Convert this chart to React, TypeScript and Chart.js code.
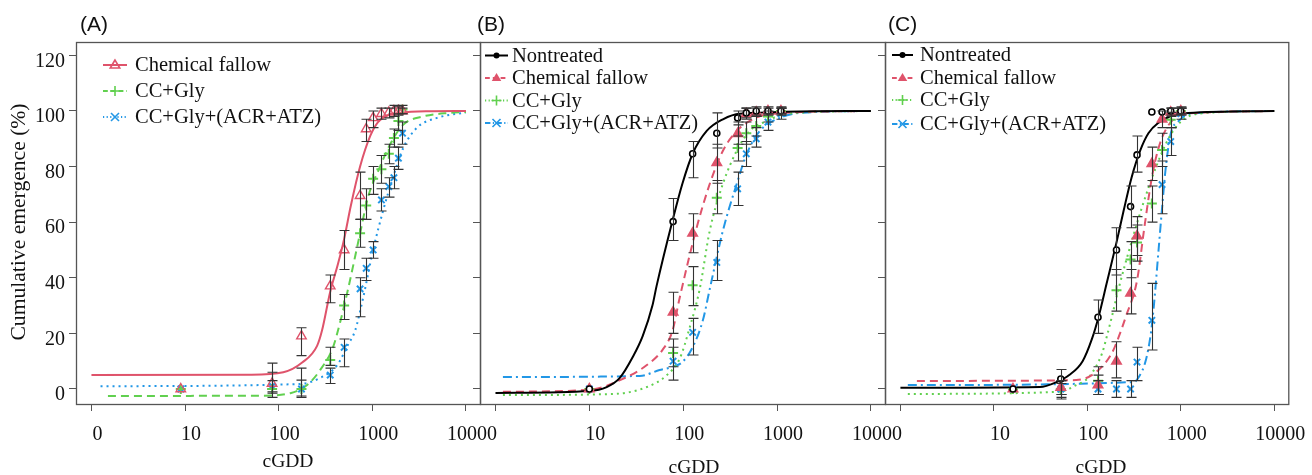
import React, { useEffect, useRef } from "react";
import { Chart, registerables } from "chart.js";
Chart.register(...registerables);

const RED = "#DF536B";
const GREEN = "#61D04F";
const BLUE = "#2297E6";
const BLACK = "#000000";

const xTickValues = [1, 10, 100, 1000, 10000];
const xTickLabelsFirst = ["0", "10", "100", "1000", "10000"];
const xTickLabelsNext = ["", "10", "100", "1000", "10000"];
const yTickValues = [0, 20, 40, 60, 80, 100, 120];
const panelTitles = ["(A)", "(B)", "(C)"];
const labelNon = "Nontreated";
const labelFallow = "Chemical fallow";
const labelGly = "CC+Gly";
const labelAcr = "CC+Gly+(ACR+ATZ)";

// ---------- Panel A ----------
const aSampleX = [9, 85, 175, 355, 500, 740, 860, 1020, 1250, 1500, 1700, 1900, 2100];
const aFallowY = [0, 2, 19, 37, 50, 69.5, 93.5, 97.5, 99, 99.5, 100, 100, 100];
const aFallowLo = [0, -3, 12, 31, 43, 61, 89, 94, 97, 97.5, 98, 98.5, 99];
const aFallowHi = [0, 9.3, 22, 41, 57, 78, 97, 100, 101, 101, 102, 101.5, 101];
const aGlyY = [0, 0, 0, 10.4, 30, 56, 66, 75.6, 79, 84.6, 90.3, 96.4, 100.5];
const aGlyLo = [0, -1.5, -2.5, 8.5, 25, 51, 61, 70, 74, 81, 87, 93, 99];
const aGlyHi = [0, 6, 3.2, 15, 34, 61, 72, 80, 84, 88, 93.5, 99, 102];
const aAcrY = [0, 1, 0, 5, 15, 36, 43.4, 50, 68, 72.8, 76, 83, 92];
const aAcrLo = [0, -1, -3, 2, 8, 26, 39, 47, 64, 69, 72, 79, 88];
const aAcrHi = [0, 3, 7.5, 7.5, 18, 40, 47, 53, 72, 76, 80, 87, 96];

const aFallowCurveX = [1, 50, 112, 178, 257, 290, 355, 430, 500, 590, 740, 950, 1150, 1500, 2000, 3800, 10000];
const aFallowCurveY = [5, 5.1, 6, 9.5, 15.5, 21, 35, 45, 54, 66, 80, 91, 96, 98.6, 99.4, 99.9, 100];
const aGlyCurveX = [1.5, 63, 133, 201, 277, 380, 453, 551, 740, 900, 1210, 1550, 2130, 3470, 6740, 10000];
const aGlyCurveY = [-2.5, -2.4, -1.5, 1.4, 6.8, 15, 24, 36, 56, 69, 80, 88, 95, 98, 99.3, 99.6];
const aAcrCurveX = [1.25, 170, 277, 420, 551, 655, 800, 1020, 1300, 1660, 2130, 3000, 4900, 10000];
const aAcrCurveY = [1, 1.8, 4, 8.5, 16, 21, 33, 50, 64, 76, 86.5, 94, 97.5, 99.5];

// ---------- Panel B ----------
const bSampleX = [10, 78, 126, 228, 380, 470, 600, 800, 1100];
const bNonY = [0, 60.2, 84.6, 92, 97.5, 99.3, 100, 100, 100];
const bNonLo = [0, 53.4, 76, 86.7, 95, 97.5, 98.5, 99, 99];
const bNonHi = [0, 68.5, 89, 99.3, 100, 101, 101.5, 101, 101];
const bFallowY = [0, 27.6, 56, 81.4, 91.8, 99, 99.5, 100, 100];
const bFallowLo = [0, 20, 49, 74, 88, 97, 98, 98.5, 99];
const bFallowHi = [0, 34.8, 63, 88, 96, 101, 101, 101.5, 101];
const bGlyY = [0, 12.9, 37.3, 68.8, 86.7, 92, 94.6, 98, 100];
const bGlyLo = [0, 8, 30, 63, 82, 88, 91, 96, 98.5];
const bGlyHi = [0, 18, 44, 75, 91, 96, 98, 100, 101.5];
const bAcrY = [0, 10, 20.4, 45.5, 72, 84.6, 90, 96, 99];
const bAcrLo = [0, 3.2, 12.2, 39, 66, 80, 87, 93, 97];
const bAcrHi = [0, 15, 25.4, 53.4, 78, 89, 94, 99, 101];

const bNonCurveX = [1, 10, 15.3, 21, 29, 37, 47, 52, 77, 98, 126, 178, 265, 400, 10000];
const bNonCurveY = [-1.4, -0.7, 0.7, 3.9, 11.5, 19, 30, 37, 60.6, 73.8, 84.6, 92.8, 97, 99, 100];
const bFallowCurveX = [1.2, 10, 25, 41, 60, 77, 92, 139, 192, 265, 372, 550, 900, 10000];
const bFallowCurveY = [-1, -0.3, 4.3, 8.6, 14, 21, 33, 58, 73.8, 85.7, 92.8, 97, 99, 100];
const bGlyCurveX = [1.2, 17.7, 41, 67, 92, 117, 150, 192, 265, 372, 510, 780, 1260, 10000];
const bGlyCurveY = [-2.2, -1.8, 0.7, 5, 11, 22, 36, 57, 73.8, 85.7, 92.8, 96.4, 99, 100];
const bAcrCurveX = [1.2, 34.5, 56, 77, 98, 126, 162, 192, 265, 372, 476, 655, 1070, 1750, 10000];
const bAcrCurveY = [4.3, 4.7, 6.8, 8, 9.7, 15, 24.7, 36, 57, 73.8, 84.6, 92.8, 97.5, 99.3, 100];

// ---------- Panel C ----------
const cSampleX = [16, 52, 130, 205, 290, 340, 490, 630, 780, 1000];
const cNonY = [0, 3.6, 25.8, 50, 65.6, 84.2, 99.6, 99.6, 100, 100];
const cNonLo = [0, -3.6, 20, 41, 58, 78, 99.6, 99.6, 98.5, 99];
const cNonHi = [0, 7, 32, 58, 73, 91, 99.6, 99.6, 101, 101];
const cFallowY = [0, 0.5, 1.4, 10, 34.4, 55, 81, 97, 99.5, 100];
const cFallowLo = [0, -2, -2, 4, 27, 48, 75, 94, 98, 99];
const cFallowHi = [0, 3, 5, 17, 43, 62, 87, 100, 101, 101];
const cGlyY = [0, 0, 3, 35.5, 46.6, 52.7, 66.7, 86, 96.8, 100];
const cGlyLo = [0, -3, -2, 28, 40, 46, 60, 80, 94, 98.5];
const cGlyHi = [0, 3, 8, 43, 53, 59, 73, 92, 99.5, 101.5];
const cAcrY = [0, 0, 0, 0, 0, 9.7, 24.7, 73.5, 89, 99];
const cAcrLo = [0, -2, -2, -3, -3, 3, 14, 63, 84, 97];
const cAcrHi = [0, 2, 3, 3, 3, 15, 38, 82, 94, 101];

const cNonCurveX = [1, 31, 47, 64, 89, 112, 132, 161, 206, 244, 297, 370, 450, 573, 790, 1200, 10000];
const cNonCurveY = [0.4, 0.7, 2.5, 5, 10, 18, 26, 38, 53, 64, 76, 86, 92, 95.7, 98.2, 99.3, 100];
const cFallowCurveX = [1.5, 76, 123, 183, 218, 258, 340, 407, 490, 578, 710, 950, 1550, 10000];
const cFallowCurveY = [2.9, 3.2, 6, 12.9, 19, 26, 39, 58, 76, 86.7, 94, 98.2, 99.3, 100];
const cGlyCurveX = [1.2, 50, 76, 104, 144, 159, 183, 218, 300, 383, 540, 745, 1020, 1550, 10000];
const cGlyCurveY = [-1.8, -1, 1.4, 4.3, 12.9, 18, 26, 36.6, 53.4, 65.2, 79.6, 90.3, 96.4, 99, 100];
const cAcrCurveX = [1.2, 316, 355, 423, 478, 515, 578, 630, 690, 780, 950, 1290, 10000];
const cAcrCurveY = [1.4, 2.5, 4.3, 10.4, 20, 30, 50, 65, 79.6, 91.8, 96.4, 99, 100];

const SOLID: number[] = [];
const DASHED = [8, 5];
const DOTTED = [2, 4];
const DASHDOT = [9, 4, 2, 4];

type Marker = "circle" | "triangle" | "cross" | "crossRot";
type Series = {
  label: string; color: string; dash: number[]; marker: Marker; fill: boolean;
  curveX: number[]; curveY: number[]; y: number[]; lo: number[]; hi: number[];
};
type Panel = {
  title: string; titleX: number; sampleX: number[]; series: Series[];
  padLeft: number; padRight: number; yWidth: number; showYLabels: boolean;
  legX0: number; legX1: number; legTextX: number; legY: number[];
  xLabelX: number; xLabelY: number; yTitle: boolean; xLabels: string[];
};

const panels: Panel[] = [
  {
    title: panelTitles[0], titleX: 80, sampleX: aSampleX, xLabels: xTickLabelsFirst,
    series: [
      { label: labelFallow, color: RED, dash: SOLID, marker: "triangle", fill: false, curveX: aFallowCurveX, curveY: aFallowCurveY, y: aFallowY, lo: aFallowLo, hi: aFallowHi },
      { label: labelGly, color: GREEN, dash: DASHED, marker: "cross", fill: false, curveX: aGlyCurveX, curveY: aGlyCurveY, y: aGlyY, lo: aGlyLo, hi: aGlyHi },
      { label: labelAcr, color: BLUE, dash: DOTTED, marker: "crossRot", fill: false, curveX: aAcrCurveX, curveY: aAcrCurveY, y: aAcrY, lo: aAcrLo, hi: aAcrHi },
    ],
    padLeft: 0, padRight: 1312 - 480, yWidth: 76, showYLabels: true,
    legX0: 103, legX1: 127, legTextX: 135, legY: [65, 91, 117],
    xLabelX: 288, xLabelY: 462, yTitle: true,
  },
  {
    title: panelTitles[1], titleX: 477, sampleX: bSampleX, xLabels: xTickLabelsNext,
    series: [
      { label: labelNon, color: BLACK, dash: SOLID, marker: "circle", fill: true, curveX: bNonCurveX, curveY: bNonCurveY, y: bNonY, lo: bNonLo, hi: bNonHi },
      { label: labelFallow, color: RED, dash: DASHED, marker: "triangle", fill: true, curveX: bFallowCurveX, curveY: bFallowCurveY, y: bFallowY, lo: bFallowLo, hi: bFallowHi },
      { label: labelGly, color: GREEN, dash: DOTTED, marker: "cross", fill: false, curveX: bGlyCurveX, curveY: bGlyCurveY, y: bGlyY, lo: bGlyLo, hi: bGlyHi },
      { label: labelAcr, color: BLUE, dash: DASHDOT, marker: "crossRot", fill: false, curveX: bAcrCurveX, curveY: bAcrCurveY, y: bAcrY, lo: bAcrLo, hi: bAcrHi },
    ],
    padLeft: 470, padRight: 1312 - 885, yWidth: 10, showYLabels: false,
    legX0: 485, legX1: 508, legTextX: 512, legY: [55.5, 78, 100.5, 123],
    xLabelX: 694, xLabelY: 468, yTitle: false,
  },
  {
    title: panelTitles[2], titleX: 888, sampleX: cSampleX, xLabels: xTickLabelsNext,
    series: [
      { label: labelNon, color: BLACK, dash: SOLID, marker: "circle", fill: true, curveX: cNonCurveX, curveY: cNonCurveY, y: cNonY, lo: cNonLo, hi: cNonHi },
      { label: labelFallow, color: RED, dash: DASHED, marker: "triangle", fill: true, curveX: cFallowCurveX, curveY: cFallowCurveY, y: cFallowY, lo: cFallowLo, hi: cFallowHi },
      { label: labelGly, color: GREEN, dash: DOTTED, marker: "cross", fill: false, curveX: cGlyCurveX, curveY: cGlyCurveY, y: cGlyY, lo: cGlyLo, hi: cGlyHi },
      { label: labelAcr, color: BLUE, dash: DASHDOT, marker: "crossRot", fill: false, curveX: cAcrCurveX, curveY: cAcrCurveY, y: cAcrY, lo: cAcrLo, hi: cAcrHi },
    ],
    padLeft: 875, padRight: 1312 - 1291, yWidth: 10, showYLabels: false,
    legX0: 892, legX1: 913, legTextX: 920, legY: [55, 78, 100, 124],
    xLabelX: 1101, xLabelY: 468, yTitle: false,
  },
];

const SERIF = '"Liberation Serif", "Times New Roman", serif';
const SANS = '"Liberation Sans", Arial, sans-serif';

function drawMarker(ctx: CanvasRenderingContext2D, m: Marker, x: number, y: number, color: string, fill: boolean) {
  ctx.save();
  ctx.setLineDash([]);
  ctx.strokeStyle = color;
  ctx.fillStyle = color;
  ctx.lineWidth = 1.6;
  ctx.beginPath();
  if (m === "circle") {
    ctx.arc(x, y, 3, 0, Math.PI * 2);
    if (fill) ctx.fill(); else ctx.stroke();
  } else if (m === "triangle") {
    const r = 5;
    ctx.moveTo(x, y - r);
    ctx.lineTo(x - r * 0.95, y + r * 0.6);
    ctx.lineTo(x + r * 0.95, y + r * 0.6);
    ctx.closePath();
    if (fill) ctx.fill(); else ctx.stroke();
  } else if (m === "cross") {
    ctx.moveTo(x - 5, y); ctx.lineTo(x + 5, y);
    ctx.moveTo(x, y - 5); ctx.lineTo(x, y + 5);
    ctx.stroke();
  } else {
    ctx.moveTo(x - 4, y - 4); ctx.lineTo(x + 4, y + 4);
    ctx.moveTo(x + 4, y - 4); ctx.lineTo(x - 4, y + 4);
    ctx.stroke();
  }
  ctx.restore();
}

function buildChart(canvas: HTMLCanvasElement, p: Panel) {
  const datasets: any[] = [];
  p.series.forEach((s) => {
    const open = !s.fill && s.marker === "triangle";
    datasets.push({
      label: s.label + " observed",
      data: p.sampleX.map((x, i) => ({ x, y: s.y[i] })),
      showLine: false,
      pointStyle: s.marker,
      pointRadius: s.marker === "circle" ? 3 : s.marker === "triangle" ? (open ? 5.5 : 5) : s.marker === "cross" ? 5 : 4.5,
      pointBackgroundColor: s.marker === "circle" ? "#ffffff" : open ? "rgba(0,0,0,0)" : s.color,
      pointBorderColor: s.color,
      pointBorderWidth: s.marker === "circle" ? 1.6 : open ? 1.4 : 2,
      errLo: s.lo,
      errHi: s.hi,
    });
  });
  p.series.forEach((s) => {
    datasets.push({
      label: s.label,
      data: s.curveX.map((x, i) => ({ x, y: s.curveY[i] })),
      showLine: true,
      borderColor: s.color,
      borderWidth: 2,
      borderDash: s.dash,
      pointRadius: 0,
      cubicInterpolationMode: "monotone",
      fill: false,
    });
  });

  const deco = {
    id: "deco" + p.title,
    afterDatasetsDraw(chart: any) {
      const ctx = chart.ctx as CanvasRenderingContext2D;
      const xs = chart.scales.x;
      const ys = chart.scales.y;
      ctx.save();
      ctx.strokeStyle = "#333";
      ctx.lineWidth = 1.1;
      ctx.setLineDash([]);
      chart.data.datasets.forEach((ds: any) => {
        if (!ds.errLo) return;
        ds.data.forEach((pt: any, i: number) => {
          const lo = ds.errLo[i];
          const hi = ds.errHi[i];
          if (lo == null || hi == null || hi - lo < 0.5) return;
          const px = Math.round(xs.getPixelForValue(pt.x)) + 0.5;
          const y1 = ys.getPixelForValue(lo);
          const y2 = ys.getPixelForValue(hi);
          ctx.beginPath();
          ctx.moveTo(px, y1); ctx.lineTo(px, y2);
          ctx.moveTo(px - 5, y1); ctx.lineTo(px + 5, y1);
          ctx.moveTo(px - 5, y2); ctx.lineTo(px + 5, y2);
          ctx.stroke();
        });
      });
      ctx.restore();
    },
    afterDraw(chart: any) {
      const ctx = chart.ctx as CanvasRenderingContext2D;
      const a = chart.chartArea;
      ctx.save();
      // box
      ctx.strokeStyle = "#555";
      ctx.lineWidth = 1.3;
      ctx.setLineDash([]);
      ctx.strokeRect(a.left + 0.5, a.top + 0.5, a.right - a.left, a.bottom - a.top);
      // title
      ctx.fillStyle = "#111";
      ctx.font = "21px " + SANS;
      ctx.textAlign = "left";
      ctx.textBaseline = "middle";
      ctx.fillText(p.title, p.titleX, 25);
      // legend
      p.series.forEach((s, i) => {
        const y = p.legY[i];
        ctx.save();
        ctx.strokeStyle = s.color;
        ctx.lineWidth = 2;
        ctx.setLineDash(s.dash.length ? s.dash.map((d) => d * 0.6) : []);
        ctx.beginPath();
        ctx.moveTo(p.legX0, y);
        ctx.lineTo(p.legX1, y);
        ctx.stroke();
        ctx.restore();
        drawMarker(ctx, s.marker, (p.legX0 + p.legX1) / 2, y, s.color, s.fill || s.marker === "circle");
        ctx.fillStyle = "#111";
        ctx.font = "20.5px " + SERIF;
        ctx.textAlign = "left";
        ctx.textBaseline = "middle";
        ctx.fillText(s.label, p.legTextX, y + 1);
      });
      // x title
      ctx.fillStyle = "#111";
      ctx.font = "19.5px " + SERIF;
      ctx.textAlign = "center";
      ctx.textBaseline = "middle";
      ctx.fillText("cGDD", p.xLabelX, p.xLabelY);
      // y title
      if (p.yTitle) {
        ctx.save();
        ctx.translate(20, 222);
        ctx.rotate(-Math.PI / 2);
        ctx.scale(1.08, 1);
        ctx.font = "20px " + SERIF;
        ctx.textAlign = "center";
        ctx.textBaseline = "middle";
        ctx.fillText("Cumulative emergence (%)", 0, 0);
        ctx.restore();
      }
      ctx.restore();
    },
  };

  return new Chart(canvas, {
    type: "scatter",
    data: { datasets },
    options: {
      animation: false,
      responsive: false,
      devicePixelRatio: 1,
      events: [],
      layout: { padding: { left: p.padLeft, right: p.padRight, top: 42, bottom: 0 } },
      plugins: { legend: { display: false }, tooltip: { enabled: false }, title: { display: false } },
      scales: {
        x: {
          type: "logarithmic",
          min: Math.pow(10, -0.165),
          max: Math.pow(10, 4.15),
          afterBuildTicks: (s: any) => { s.ticks = xTickValues.map((v) => ({ value: v })); },
          afterFit: (s: any) => { s.height = 71; },
          grid: { drawOnChartArea: false, drawTicks: true, tickLength: 7, color: "#555", lineWidth: 1 },
          border: { display: false },
          ticks: {
            autoSkip: false,
            maxRotation: 0,
            padding: 12,
            labelOffset: 6,
            color: "#111",
            font: { family: SERIF, size: 20 },
            callback: (_v: any, i: number) => p.xLabels[i],
          },
        },
        y: {
          type: "linear",
          min: -5.4,
          max: 124.8,
          afterBuildTicks: (s: any) => { s.ticks = yTickValues.map((v) => ({ value: v })); },
          afterFit: (s: any) => { s.width = p.yWidth; },
          grid: { drawOnChartArea: false, drawTicks: true, tickLength: 7, color: "#555", lineWidth: 1 },
          border: { display: false },
          ticks: {
            display: p.showYLabels,
            padding: 4,
            labelOffset: 6,
            color: "#111",
            font: { family: SERIF, size: 20 },
            callback: (v: any) => String(v),
          },
        },
      },
    } as any,
    plugins: [deco],
  });
}

export default function App() {
  const refA = useRef<HTMLCanvasElement>(null);
  const refB = useRef<HTMLCanvasElement>(null);
  const refC = useRef<HTMLCanvasElement>(null);

  useEffect(() => {
    const refs = [refA, refB, refC];
    const charts = refs.map((r, i) => buildChart(r.current as HTMLCanvasElement, panels[i]));
    return () => charts.forEach((c) => c.destroy());
  }, []);

  const cs: React.CSSProperties = { position: "absolute", left: 0, top: 0, width: 1312, height: 475 };
  return (
    <div style={{ position: "absolute", left: 0, top: 0, width: 1312, height: 475, background: "#ffffff", overflow: "hidden" }}>
      <canvas ref={refA} width={1312} height={475} style={cs} />
      <canvas ref={refB} width={1312} height={475} style={cs} />
      <canvas ref={refC} width={1312} height={475} style={cs} />
    </div>
  );
}
